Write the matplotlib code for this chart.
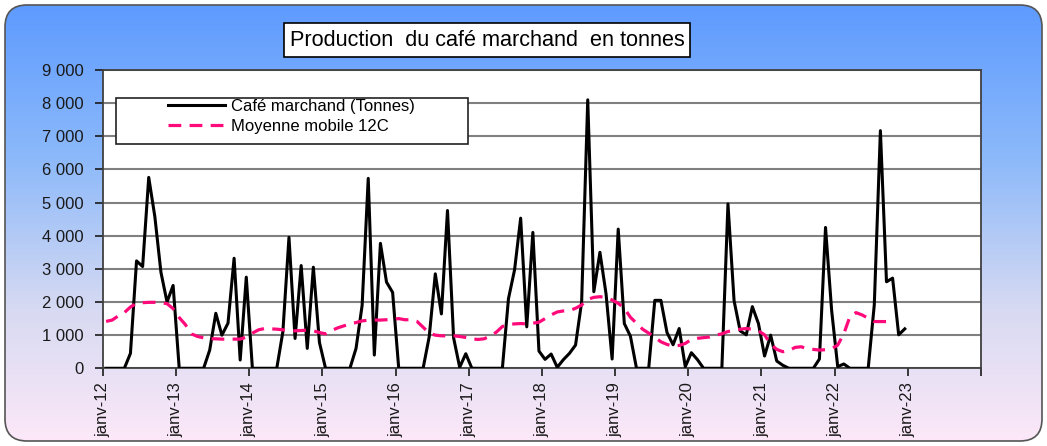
import numpy as np
import matplotlib.pyplot as plt
from matplotlib.patches import FancyBboxPatch, Rectangle
from matplotlib.lines import Line2D
from matplotlib.ticker import FuncFormatter

plt.rcParams['font.family'] = ['Liberation Sans', 'DejaVu Sans']

# Monthly production, janv-12 .. dec-22 (tonnes)
production = [
    0, 0, 0, 0, 450, 3240, 3070, 5760, 4580, 2900, 2000, 2500,          # 2012
    0, 0, 0, 0, 0, 550, 1660, 1000, 1360, 3320, 250, 2750,              # 2013
    0, 0, 0, 0, 0, 1100, 3950, 900, 3100, 600, 3050, 780,               # 2014
    0, 0, 0, 0, 0, 600, 1900, 5730, 400, 3770, 2600, 2290,              # 2015
    0, 0, 0, 0, 0, 950, 2850, 1640, 4760, 920, 30, 440,                 # 2016
    0, 0, 0, 0, 0, 0, 2100, 2970, 4530, 1250, 4100, 520,                # 2017
    270, 430, 30, 260, 450, 700, 2000, 8100, 2310, 3500, 2250, 280,     # 2018
    4200, 1350, 970, 0, 0, 0, 2050, 2050, 1080, 710, 1200, 50,          # 2019
    470, 260, 0, 0, 0, 0, 4960, 2040, 1130, 1010, 1860, 1350,           # 2020
    370, 1000, 220, 90, 0, 0, 0, 0, 0, 280, 4250, 1750,                 # 2021
    50, 130, 0, 0, 0, 0, 1920, 7170, 2610, 2720, 1010, 1190,            # 2022
]

# 12-month moving average as drawn on the chart
moving_avg = [
    1415, 1455, 1580, 1680, 1850, 1960, 1980, 1990, 1990, 1980, 1950, 1800,
    1530, 1320, 1040, 960, 920, 890, 890, 880, 880, 880, 880, 940,
    1060, 1160, 1200, 1190, 1180, 1160, 1140, 1130, 1140, 1150, 1130, 1080,
    1040, 1140, 1220, 1280, 1340, 1380, 1430, 1450, 1455, 1455, 1465, 1475,
    1500, 1465, 1465, 1415, 1240, 1060, 1000, 980, 980, 980, 960, 930,
    890, 870, 890, 970, 1090, 1260, 1320, 1340, 1350, 1340, 1360, 1390,
    1500, 1610, 1700, 1730, 1740, 1810, 1910, 2080, 2140, 2160, 2140, 2060,
    1960, 1810, 1540, 1360, 1180, 1060, 940, 800, 720, 670, 690, 750,
    870, 905, 925, 945, 1000, 1040, 1110, 1140, 1180, 1200, 1180, 1130,
    1010, 730, 570, 500, 530, 630, 650, 590, 570, 550, 560, 590,
    700, 1040, 1560, 1680, 1610, 1510, 1410, 1410, 1410,
]

year_labels = ['janv-12', 'janv-13', 'janv-14', 'janv-15', 'janv-16', 'janv-17',
               'janv-18', 'janv-19', 'janv-20', 'janv-21', 'janv-22', 'janv-23']

W, H = 1047, 446
fig = plt.figure(figsize=(W / 100, H / 100), dpi=100)
fig.patch.set_facecolor('white')

# background panel with vertical gradient and rounded corners
bg = fig.add_axes([0, 0, 1, 1])
bg.set_xlim(0, W)
bg.set_ylim(H, 0)
bg.axis('off')
stops = np.array([0.0, 0.35, 0.7, 1.0])
cols = np.array([[94, 155, 255], [140, 185, 250], [215, 218, 242], [252, 232, 248]]) / 255
t = np.linspace(0, 1, 256)
grad = np.stack([np.interp(t, stops, cols[:, k]) for k in range(3)], axis=-1)
grad = np.repeat(grad[:, None, :], 2, axis=1)
panel = FancyBboxPatch((5, 5), 1037, 436, boxstyle='round,pad=0,rounding_size=22',
                       fc='none', ec='#555555', lw=1.2)
bg.add_patch(panel)
im = bg.imshow(grad, extent=[5, 1042, 441, 5], aspect='auto', zorder=0)
im.set_clip_path(panel)

# plot area
ax = fig.add_axes([103 / W, 1 - 368.3 / H, (981 - 103) / W, (368.3 - 70) / H])
ax.set_facecolor('white')
x = np.arange(len(production)) + 0.5
xm = np.arange(len(moving_avg)) + 0.5
ax.plot(x, production, color='black', lw=2.2, zorder=3)
ax.plot(xm, moving_avg, color='#ff0a7a', lw=2.3, ls=(0, (4, 2.6)), zorder=3)

ax.set_xlim(0, 144)
ax.set_ylim(0, 9000)
ax.set_yticks(np.arange(0, 9001, 1000))
ax.yaxis.set_major_formatter(FuncFormatter(lambda v, p: f'{v:,.0f}'.replace(',', ' ')))
ax.set_xticks(np.arange(0, 145, 12))
ax.set_xticklabels(year_labels + [''], rotation=90)
ax.grid(axis='y', color='#808080', lw=1.5)
ax.set_axisbelow(True)
for s in ax.spines.values():
    s.set_color('#404040')
    s.set_linewidth(1.3)
ax.tick_params(axis='y', length=6, width=1.2, pad=8, labelsize=12, colors='#1a1a1a')
ax.tick_params(axis='x', length=6, width=1.2, pad=4, labelsize=12, colors='#1a1a1a')

# title box
fig.text(487 / W, 1 - 40 / H, 'Production  du café marchand  en tonnes',
         ha='center', va='center', fontsize=15.6, color='black',
         bbox=dict(boxstyle='square,pad=0.28', fc='white', ec='black', lw=1.2))

# legend with a wide white frame
fig.add_artist(Rectangle((115.7 / W, 1 - 144 / H), (467.7 - 115.7) / W, (144 - 97.7) / H,
                         transform=fig.transFigure, fc='white', ec='#222222', lw=1.2, zorder=4))
handles = [Line2D([], [], color='black', lw=2.2),
           Line2D([], [], color='#ff0a7a', lw=2.3, ls=(0, (4, 2.6)))]
fig.legend(handles, ['Café marchand (Tonnes)', 'Moyenne mobile 12C'],
           loc='upper left', bbox_to_anchor=(168 / W, 1 - 99 / H),
           bbox_transform=fig.transFigure, frameon=False, borderpad=0,
           borderaxespad=0, handlelength=3.4, handletextpad=0.4,
           labelspacing=0.28, fontsize=12)

fig.savefig('out.png', dpi=100)
